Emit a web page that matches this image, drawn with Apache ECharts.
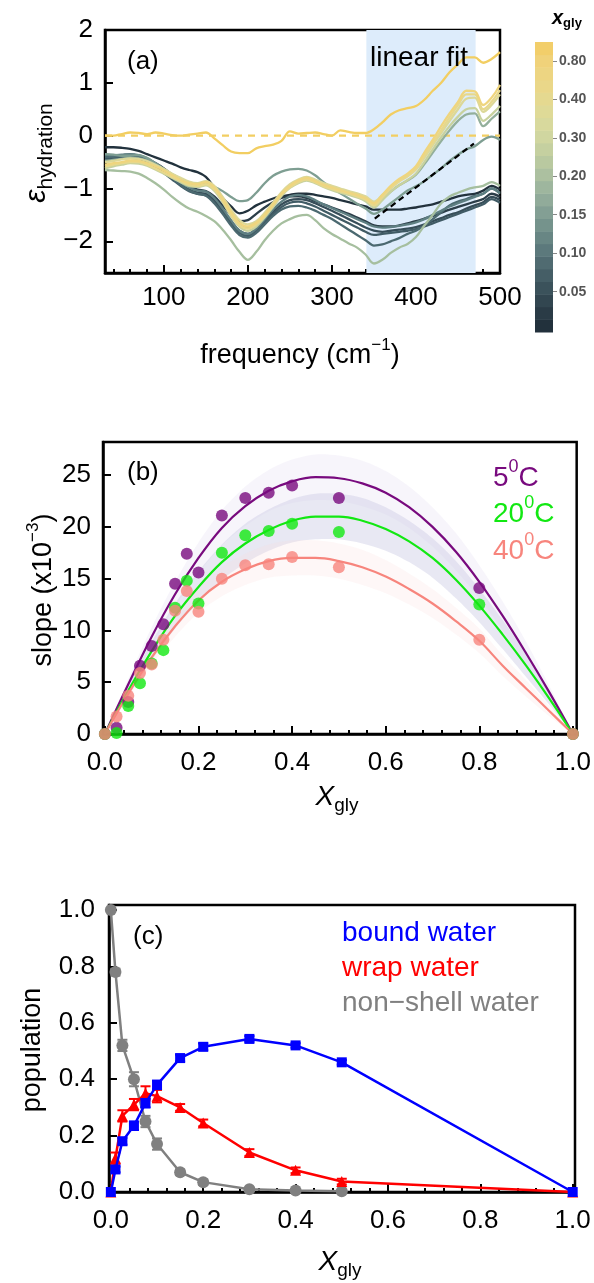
<!DOCTYPE html>
<html><head><meta charset="utf-8">
<script src="https://cdn.jsdelivr.net/npm/echarts@6/dist/echarts.min.js"></script>
<style>html,body{margin:0;padding:0;background:#fff}#c{width:594px;height:1283px}</style>
</head><body><div id="c"></div>
<script>
const FONT = '"Liberation Sans", Arial, Helvetica, sans-serif';

// ---------- Panel (a) data ----------
const freq = [30,40,50,60,70,80,90,100,110,120,130,140,150,160,170,180,190,200,210,220,230,240,250,260,270,280,290,300,310,320,330,340,350,360,370,380,390,400,410,420,430,440,450,460,470,480,490,500];
const epsD1 = [-0.22,-0.22,-0.23,-0.25,-0.29,-0.35,-0.41,-0.47,-0.53,-0.60,-0.65,-0.69,-0.78,-0.98,-1.18,-1.34,-1.47,-1.42,-1.32,-1.25,-1.19,-1.15,-1.12,-1.10,-1.10,-1.12,-1.15,-1.18,-1.22,-1.26,-1.30,-1.34,-1.40,-1.40,-1.40,-1.40,-1.38,-1.36,-1.33,-1.30,-1.25,-1.20,-1.15,-1.12,-1.10,-1.04,-0.95,-1.02];
const epsD2 = [-0.38,-0.38,-0.37,-0.36,-0.38,-0.44,-0.52,-0.62,-0.74,-0.86,-0.96,-1.02,-1.05,-1.15,-1.32,-1.50,-1.62,-1.60,-1.48,-1.36,-1.26,-1.18,-1.15,-1.15,-1.18,-1.24,-1.30,-1.36,-1.42,-1.48,-1.55,-1.62,-1.70,-1.72,-1.72,-1.70,-1.66,-1.62,-1.57,-1.52,-1.46,-1.40,-1.35,-1.30,-1.25,-1.20,-1.10,-1.16];
const epsD3 = [-0.42,-0.42,-0.41,-0.40,-0.42,-0.48,-0.57,-0.68,-0.80,-0.92,-1.02,-1.08,-1.10,-1.22,-1.42,-1.62,-1.80,-1.86,-1.76,-1.60,-1.44,-1.30,-1.22,-1.20,-1.22,-1.28,-1.35,-1.42,-1.50,-1.58,-1.66,-1.74,-1.80,-1.82,-1.80,-1.78,-1.76,-1.73,-1.68,-1.62,-1.56,-1.50,-1.45,-1.38,-1.32,-1.26,-1.16,-1.22];
const epsD4 = [-0.45,-0.44,-0.43,-0.42,-0.44,-0.50,-0.60,-0.71,-0.83,-0.95,-1.05,-1.10,-1.13,-1.26,-1.46,-1.66,-1.84,-1.90,-1.80,-1.64,-1.48,-1.35,-1.27,-1.25,-1.28,-1.34,-1.42,-1.50,-1.58,-1.66,-1.74,-1.82,-1.88,-1.86,-1.84,-1.82,-1.80,-1.77,-1.72,-1.66,-1.60,-1.54,-1.48,-1.42,-1.36,-1.30,-1.20,-1.27];
const epsD5 = [-0.40,-0.40,-0.39,-0.38,-0.40,-0.46,-0.56,-0.67,-0.80,-0.93,-1.04,-1.10,-1.14,-1.28,-1.48,-1.70,-1.88,-1.93,-1.84,-1.68,-1.52,-1.40,-1.34,-1.33,-1.36,-1.42,-1.50,-1.58,-1.68,-1.78,-1.88,-1.98,-2.08,-2.06,-2.00,-1.94,-1.86,-1.80,-1.70,-1.58,-1.45,-1.32,-1.25,-1.20,-1.14,-1.10,-1.00,-1.08];
const epsD6 = [-0.36,-0.37,-0.36,-0.35,-0.37,-0.43,-0.53,-0.64,-0.76,-0.88,-0.98,-1.04,-1.06,-1.18,-1.38,-1.60,-1.80,-1.86,-1.76,-1.58,-1.40,-1.25,-1.15,-1.12,-1.15,-1.22,-1.30,-1.37,-1.44,-1.51,-1.58,-1.65,-1.72,-1.74,-1.73,-1.71,-1.68,-1.64,-1.58,-1.50,-1.42,-1.34,-1.28,-1.22,-1.16,-1.10,-1.00,-1.10];
const epsLG = [-0.65,-0.66,-0.67,-0.68,-0.72,-0.80,-0.90,-1.02,-1.16,-1.28,-1.38,-1.44,-1.52,-1.62,-1.78,-1.98,-2.20,-2.35,-2.20,-1.98,-1.80,-1.66,-1.58,-1.52,-1.50,-1.60,-1.75,-1.86,-1.95,-2.04,-2.12,-2.25,-2.42,-2.35,-2.22,-2.12,-2.05,-1.92,-1.70,-1.50,-1.28,-1.15,-1.08,-1.02,-0.98,-0.95,-0.88,-0.95];
const epsT20 = [-0.35,-0.36,-0.38,-0.38,-0.37,-0.42,-0.52,-0.63,-0.76,-0.88,-0.96,-0.95,-0.92,-0.97,-1.05,-1.16,-1.24,-1.22,-1.08,-0.90,-0.76,-0.68,-0.64,-0.63,-0.66,-0.75,-0.88,-0.99,-1.09,-1.19,-1.29,-1.38,-1.48,-1.40,-1.28,-1.16,-1.04,-0.96,-0.86,-0.74,-0.62,-0.48,-0.36,-0.26,-0.20,-0.08,-0.02,-0.08];
const epsG175 = [-0.48,-0.46,-0.44,-0.42,-0.43,-0.47,-0.55,-0.64,-0.73,-0.82,-0.90,-0.93,-0.90,-1.00,-1.22,-1.46,-1.66,-1.74,-1.67,-1.50,-1.30,-1.10,-0.95,-0.86,-0.82,-0.87,-0.94,-0.99,-1.04,-1.09,-1.14,-1.20,-1.31,-1.20,-1.06,-0.94,-0.85,-0.74,-0.54,-0.32,-0.10,0.10,0.28,0.40,0.42,0.18,0.32,0.46];
const epsY30 = [-0.62,-0.58,-0.55,-0.52,-0.53,-0.57,-0.64,-0.72,-0.80,-0.88,-0.95,-0.97,-0.94,-1.04,-1.26,-1.52,-1.72,-1.80,-1.72,-1.55,-1.35,-1.14,-0.99,-0.90,-0.85,-0.90,-0.97,-1.03,-1.08,-1.12,-1.17,-1.24,-1.36,-1.22,-1.06,-0.94,-0.84,-0.72,-0.50,-0.26,-0.03,0.18,0.36,0.50,0.52,0.28,0.40,0.56];
const epsY35 = [-0.50,-0.48,-0.45,-0.43,-0.44,-0.48,-0.55,-0.63,-0.72,-0.80,-0.87,-0.90,-0.86,-0.95,-1.16,-1.40,-1.60,-1.68,-1.62,-1.46,-1.27,-1.07,-0.92,-0.83,-0.78,-0.83,-0.90,-0.95,-1.00,-1.05,-1.09,-1.15,-1.25,-1.12,-0.97,-0.85,-0.76,-0.64,-0.42,-0.18,0.05,0.28,0.50,0.70,0.72,0.45,0.58,0.78];
const epsY40 = [-0.58,-0.55,-0.52,-0.50,-0.50,-0.55,-0.62,-0.70,-0.78,-0.86,-0.93,-0.95,-0.92,-1.02,-1.24,-1.50,-1.70,-1.76,-1.68,-1.52,-1.32,-1.12,-0.98,-0.88,-0.83,-0.88,-0.96,-1.01,-1.06,-1.10,-1.15,-1.21,-1.32,-1.17,-1.00,-0.87,-0.77,-0.63,-0.38,-0.14,0.10,0.35,0.58,0.78,0.78,0.50,0.64,0.86];
const epsY50 = [-0.55,-0.52,-0.50,-0.47,-0.48,-0.52,-0.58,-0.66,-0.75,-0.84,-0.90,-0.92,-0.88,-0.98,-1.20,-1.45,-1.65,-1.72,-1.65,-1.50,-1.30,-1.10,-0.95,-0.85,-0.80,-0.86,-0.93,-0.98,-1.03,-1.08,-1.12,-1.18,-1.28,-1.12,-0.95,-0.82,-0.72,-0.58,-0.32,-0.08,0.18,0.42,0.64,0.85,0.84,0.58,0.72,0.96];
const epsY80 = [0.00,0.00,0.03,0.06,0.05,0.03,0.06,0.04,0.01,0.00,0.02,0.04,0.06,-0.05,-0.18,-0.30,-0.33,-0.33,-0.24,-0.20,-0.17,-0.10,0.08,0.04,0.05,0.06,0.03,0.00,0.10,0.07,0.05,0.05,0.12,0.25,0.40,0.48,0.52,0.56,0.68,0.85,1.00,1.20,1.35,1.48,1.48,1.38,1.45,1.58];
const aLines = [epsD1, epsD2, epsD3, epsD4, epsD5, epsD6, epsLG, epsT20, epsG175, epsY30, epsY35, epsY40, epsY50, epsY80];
const aColors = ['#22323D','#2C3E49','#364D58','#405B65','#4B6970','#5E7F82','#A6BF9F','#7E9E92','#93AF9B','#C8D29E','#DCD898','#E7D88C','#EFD57E','#F2CE62'];
const fitRange = [341, 471];
const linearFit = [[351, -1.57], [469, -0.15]];
const zeroRef = [[30, 0], [500, 0]];
const aXTicks = [100, 200, 300, 400, 500];
const aXMinor = [40,60,80,120,140,160,180,220,240,260,280,320,340,360,380,420,440,460,480];
const aYTicks = [-2, -1, 0, 1, 2];

// colorbar
const cbColors = ['#22313C','#2A3B46','#324650','#3B525B','#455E66','#506B71','#5C797C','#688684','#75938C','#839F94','#91AB9A','#9EB69E','#ACC0A0','#B9C9A0','#C5D0A0','#D0D6A0','#D8D99D','#DFDA97','#E5D990','#EAD789','#EDD582','#F0D27A','#F2CE6A'];
const cbTickPos = [3.2, 6.25, 9.3, 12.35, 15.4, 18.45, 21.5];
const cbLabels = ['0.05','0.10','0.15','0.20','0.30','0.40','0.80'];

// ---------- Panel (b) data ----------
const bX = [0,0.025,0.05,0.075,0.1,0.125,0.15,0.175,0.2,0.25,0.3,0.35,0.4,0.5,0.8,1.0];
const slope5 = [0,0.6,3.1,6.6,8.5,10.6,14.5,17.4,15.6,21.1,22.8,23.3,24.0,22.8,14.1,0];
const slope20 = [0,0.1,2.7,4.9,6.8,8.1,12.2,14.8,12.6,17.5,19.2,19.6,20.3,19.5,12.5,0];
const slope40 = [0,1.7,3.7,5.9,6.7,9.1,11.9,13.8,11.8,15.0,16.3,16.4,17.1,16.1,9.1,0];
const fitX = [0,0.05,0.1,0.15,0.2,0.25,0.3,0.35,0.4,0.45,0.5,0.55,0.6,0.65,0.7,0.75,0.8,0.85,0.9,0.95,1.0];
const fit5 = [0,4.8,9.4,13.5,17.0,19.9,22.0,23.5,24.4,24.8,24.7,24.2,23.3,21.9,20.0,17.6,14.7,11.4,7.8,4.0,0];
const fit20 = [0,4.2,8.0,11.4,14.2,16.6,18.4,19.7,20.6,21.0,21.0,20.6,19.8,18.6,17.0,14.9,12.4,9.6,6.6,3.4,0];
const fit40 = [0,3.9,7.4,10.4,12.9,14.7,15.9,16.7,17.0,17.0,16.7,16.1,15.2,14.0,12.6,10.9,9.0,6.6,4.4,2.2,0];
const band5 = [0,0.5,0.9,1.2,1.5,1.7,1.9,2.0,2.1,2.2,2.2,2.2,2.1,2.0,1.9,1.8,1.6,1.4,1.1,0.6,0];
const band20 = [0,0.5,0.9,1.2,1.5,1.7,1.9,2.0,2.1,2.2,2.2,2.2,2.1,2.0,1.9,1.8,1.6,1.4,1.1,0.6,0];
const band40 = [0,0.4,0.7,1.0,1.2,1.4,1.5,1.6,1.7,1.7,1.7,1.7,1.6,1.5,1.4,1.3,1.2,1.0,0.8,0.5,0];
const bXTicks = [0,0.2,0.4,0.6,0.8,1.0];
const bXMinor = [0.04,0.08,0.12,0.16,0.24,0.28,0.32,0.36,0.44,0.48,0.52,0.56,0.64,0.68,0.72,0.76,0.84,0.88,0.92,0.96];
const bYTicks = [0,5,10,15,20,25];

// ---------- Panel (c) data ----------
const cX = [0,0.01,0.025,0.05,0.075,0.1,0.15,0.2,0.3,0.4,0.5,1.0];
const bound = [0,0.08,0.18,0.235,0.315,0.38,0.475,0.515,0.543,0.52,0.46,0];
const boundErr = [0,0.01,0.012,0.015,0.015,0.015,0.012,0.012,0.01,0.008,0.008,0];
const wrap = [0,0.12,0.27,0.31,0.35,0.34,0.30,0.245,0.14,0.077,0.037,0];
const wrapErr = [0,0.02,0.02,0.02,0.025,0.022,0.012,0.012,0.012,0.01,0.01,0];
const nsX = [0,0.01,0.025,0.05,0.075,0.1,0.15,0.2,0.3,0.4,0.5];
const nonShell = [1.0,0.78,0.52,0.40,0.25,0.17,0.07,0.035,0.01,0.005,0.003];
const nonShellErr = [0,0.012,0.02,0.025,0.02,0.02,0.01,0.01,0.005,0.005,0.005];
const cYTicks = [0,0.2,0.4,0.6,0.8,1.0];

// ---------- helpers ----------
const minus = v => String(v).replace('-', '\u2212');
const pairs = (xs, ys) => xs.map((x, i) => [x, ys[i]]);
const axisLineStyle = {show: true, onZero: false, lineStyle: {color: '#000', width: 2.5}};
function majorX(grid, min, max, ticks, fmt, margin) {
  return {type: 'value', gridIndex: grid, min, max, position: 'bottom',
    axisLine: axisLineStyle, splitLine: {show: false},
    axisTick: {show: true, inside: true, length: 8, lineStyle: {color: '#000', width: 2}, customValues: ticks},
    axisLabel: {customValues: ticks, formatter: fmt, fontSize: 26, color: '#000', fontFamily: FONT, margin}};
}
function minorX(grid, min, max, ticks) {
  return {type: 'value', gridIndex: grid, min, max, position: 'bottom',
    axisLine: {show: false, onZero: false}, splitLine: {show: false},
    axisTick: {show: true, inside: true, length: 4, lineStyle: {color: '#000', width: 2}, customValues: ticks},
    axisLabel: {show: false}};
}
function majorY(grid, min, max, ticks, fmt, margin) {
  return {type: 'value', gridIndex: grid, min, max, position: 'left',
    axisLine: axisLineStyle, splitLine: {show: false},
    axisTick: {show: true, inside: true, length: 8, lineStyle: {color: '#000', width: 2}, customValues: ticks},
    axisLabel: {customValues: ticks, formatter: fmt, fontSize: 26, color: '#000', fontFamily: FONT, margin}};
}
function errRender(color) {
  return function (params, api) {
    const x = api.value(0), y = api.value(1), e = api.value(2);
    if (!e) return null;
    const p1 = api.coord([x, y - e]), p2 = api.coord([x, y + e]);
    const cw = 5;
    const st = {stroke: color, lineWidth: 2};
    return {type: 'group', children: [
      {type: 'line', shape: {x1: p1[0], y1: p1[1], x2: p2[0], y2: p2[1]}, style: st},
      {type: 'line', shape: {x1: p1[0] - cw, y1: p1[1], x2: p1[0] + cw, y2: p1[1]}, style: st},
      {type: 'line', shape: {x1: p2[0] - cw, y1: p2[1], x2: p2[0] + cw, y2: p2[1]}, style: st}
    ]};
  };
}
function bandRender(fit, w, color) {
  return function (params, api) {
    const pts = [];
    fitX.forEach((x, i) => pts.push(api.coord([x, fit[i] + w[i]])));
    for (let i = fitX.length - 1; i >= 0; i--) pts.push(api.coord([fitX[i], fit[i] - w[i]]));
    return {type: 'polygon', shape: {points: pts, smooth: 0.3}, style: {fill: color}};
  };
}

const series = [];
// panel a
series.push({type: 'line', xAxisIndex: 0, yAxisIndex: 0, data: zeroRef, symbol: 'none',
  lineStyle: {color: '#F2CE62', width: 2.2, type: [7, 6]}, z: 1,
  markArea: {silent: true, itemStyle: {color: '#DDECFB'}, data: [[{xAxis: fitRange[0]}, {xAxis: fitRange[1]}]]}});
aLines.forEach((arr, k) => series.push({type: 'line', xAxisIndex: 0, yAxisIndex: 0, data: pairs(freq, arr),
  symbol: 'none', smooth: 0.35, lineStyle: {color: aColors[k], width: 2.3}, z: 2 + k}));
series.push({type: 'line', xAxisIndex: 0, yAxisIndex: 0, data: linearFit, symbol: 'none',
  lineStyle: {color: '#000', width: 2.2, type: [6, 4]}, z: 30});
// colorbar
series.push({type: 'custom', xAxisIndex: 2, yAxisIndex: 1, data: cbColors.map((c, i) => [0, i]),
  renderItem: function (params, api) {
    const i = api.value(1);
    const p1 = api.coord([0, i]), p2 = api.coord([1, i + 1]);
    return {type: 'rect', shape: {x: p1[0], y: p2[1], width: p2[0] - p1[0], height: p1[1] - p2[1] + 0.5},
      style: {fill: cbColors[i]}};
  }});
// panel b
series.push({type: 'custom', xAxisIndex: 3, yAxisIndex: 2, data: [[0, 0]], renderItem: bandRender(fit5, band5, 'rgba(225,218,242,0.28)'), z: 1});
series.push({type: 'custom', xAxisIndex: 3, yAxisIndex: 2, data: [[0, 0]], renderItem: bandRender(fit20, band20, 'rgba(205,203,228,0.45)'), z: 1});
series.push({type: 'custom', xAxisIndex: 3, yAxisIndex: 2, data: [[0, 0]], renderItem: bandRender(fit40, band40, 'rgba(252,218,218,0.22)'), z: 1});
const bCols = ['#780A7E', '#12E812', '#F7857D'];
[[fit5, slope5], [fit20, slope20], [fit40, slope40]].forEach(([f, s], k) => {
  series.push({type: 'line', xAxisIndex: 3, yAxisIndex: 2, data: pairs(fitX, f), symbol: 'none', smooth: 0.4,
    lineStyle: {color: bCols[k], width: 2.2}, z: 5});
  series.push({type: 'scatter', xAxisIndex: 3, yAxisIndex: 2, data: pairs(bX, s), symbolSize: 12,
    itemStyle: {color: bCols[k]}, z: 6 + k});
});
// panel c
const cSets = [
  {x: nsX, y: nonShell, e: nonShellErr, color: '#808080', sym: 'circle', size: 12},
  {x: cX, y: wrap, e: wrapErr, color: '#FF0000', sym: 'triangle', size: 11},
  {x: cX, y: bound, e: boundErr, color: '#0000FF', sym: 'rect', size: 10}
];
cSets.forEach((s, k) => {
  series.push({type: 'line', xAxisIndex: 5, yAxisIndex: 3, data: pairs(s.x, s.y), symbol: s.sym, symbolSize: s.size,
    showAllSymbol: true, lineStyle: {color: s.color, width: 2.5}, itemStyle: {color: s.color}, z: 3 + k});
  series.push({type: 'custom', xAxisIndex: 5, yAxisIndex: 3, data: s.x.map((x, i) => [x, s.y[i], s.e[i]]),
    renderItem: errRender(s.color), z: 3 + k});
});

const T = (x, y, text, extra) => Object.assign({type: 'text', x, y, z: 100,
  style: Object.assign({text, fill: '#000', fontSize: 26, fontFamily: FONT, align: 'left', verticalAlign: 'middle'}, extra || {})});
const subRich = (size, subSize, italicMain) => ({
  m: {fontSize: size, fontFamily: FONT, fontStyle: italicMain ? 'italic' : 'normal', lineHeight: size, verticalAlign: 'top'},
  s: {fontSize: subSize, fontFamily: FONT, lineHeight: subSize, padding: [Math.round(size * 0.45), 0, 0, 0], verticalAlign: 'top'}
});
const supRich = (size, supSize) => ({
  m: {fontSize: size, fontFamily: FONT, lineHeight: size, padding: [Math.round(size * 0.22), 0, 0, 0], verticalAlign: 'top'},
  p: {fontSize: supSize, fontFamily: FONT, lineHeight: supSize, verticalAlign: 'top'}
});

const graphic = [
  T(127, 62, '(a)'),
  T(370, 58, 'linear fit', {fontSize: 28}),
  T(552, 18, '{m|x}{s|gly}', {rich: {
    m: {fontSize: 20, fontFamily: FONT, fontStyle: 'italic', fontWeight: 'bold', lineHeight: 20, verticalAlign: 'top'},
    s: {fontSize: 13, fontFamily: FONT, fontWeight: 'bold', lineHeight: 13, padding: [9, 0, 0, 0], verticalAlign: 'top'}}}),
  Object.assign(T(37, 153, '{m|\u03b5}{s|hydration}', {align: 'center', rich: subRich(30, 21, true)}), {rotation: Math.PI / 2}),
  T(300, 350, '{m|frequency (cm}{p|\u22121}{m|)}', {align: 'center', rich: supRich(27, 17)}),
  T(127, 473, '(b)'),
  T(493, 472, '{m|5}{p|0}{m|C}', {fill: bCols[0], rich: supRich(28, 18)}),
  T(493, 508, '{m|20}{p|0}{m|C}', {fill: bCols[1], rich: supRich(28, 18)}),
  T(493, 545, '{m|40}{p|0}{m|C}', {fill: bCols[2], rich: supRich(28, 18)}),
  Object.assign(T(38, 590, '{m|slope (x10}{p|\u22123}{m|)}', {align: 'center', rich: supRich(27, 17)}), {rotation: Math.PI / 2}),
  T(337, 797, '{m|X}{s|gly}', {align: 'center', rich: subRich(28, 19, true)}),
  T(133, 937, '(c)'),
  T(342, 933, 'bound water', {fill: '#0000FF', fontSize: 28}),
  T(342, 968, 'wrap water', {fill: '#FF0000', fontSize: 28}),
  T(342, 1003, 'non\u2212shell water', {fill: '#808080', fontSize: 28}),
  Object.assign(T(33, 1050, 'population', {align: 'center', fontSize: 27}), {rotation: Math.PI / 2}),
  T(340, 1262, '{m|X}{s|gly}', {align: 'center', rich: subRich(28, 19, true)})
];

const option = {
  animation: false,
  backgroundColor: '#fff',
  grid: [
    {left: 105, top: 30, width: 395, height: 243, show: true, borderColor: '#000', borderWidth: 2.5, backgroundColor: 'transparent'},
    {left: 535, top: 42, width: 18, height: 290},
    {left: 103, top: 442, width: 475, height: 292, show: true, borderColor: '#000', borderWidth: 2.5, backgroundColor: 'transparent'},
    {left: 109, top: 905, width: 466, height: 287, show: true, borderColor: '#000', borderWidth: 2.5, backgroundColor: 'transparent'}
  ],
  xAxis: [
    majorX(0, 30, 500, aXTicks, v => String(v), 12),
    minorX(0, 30, 500, aXMinor),
    {type: 'value', gridIndex: 1, min: 0, max: 1, show: false},
    majorX(2, -0.004, 1.008, bXTicks, v => v.toFixed(1), 16),
    minorX(2, -0.004, 1.008, bXMinor),
    majorX(3, -0.004, 1.005, bXTicks, v => v.toFixed(1), 16),
    minorX(3, -0.004, 1.005, bXMinor)
  ],
  yAxis: [
    majorY(0, -2.6, 2, aYTicks, minus, 12),
    {type: 'value', gridIndex: 1, min: 0, max: cbColors.length, position: 'right',
      axisLine: {show: false, onZero: false}, splitLine: {show: false},
      axisTick: {show: true, inside: false, length: 4, lineStyle: {color: '#888', width: 1}, customValues: cbTickPos},
      axisLabel: {customValues: cbTickPos, fontSize: 14, fontWeight: 'bold', color: '#555', fontFamily: FONT, margin: 6,
        formatter: v => { const i = cbTickPos.findIndex(p => Math.abs(p - v) < 1e-6); return i >= 0 ? cbLabels[i] : ''; }}},
    majorY(2, 0, 28.2, bYTicks, v => String(v), 12),
    majorY(3, 0, 1.018, cYTicks, v => v.toFixed(1), 14)
  ],
  series,
  graphic
};
const chart = echarts.init(document.getElementById('c'), null, {renderer: 'canvas'});
chart.setOption(option);
</script></body></html>
